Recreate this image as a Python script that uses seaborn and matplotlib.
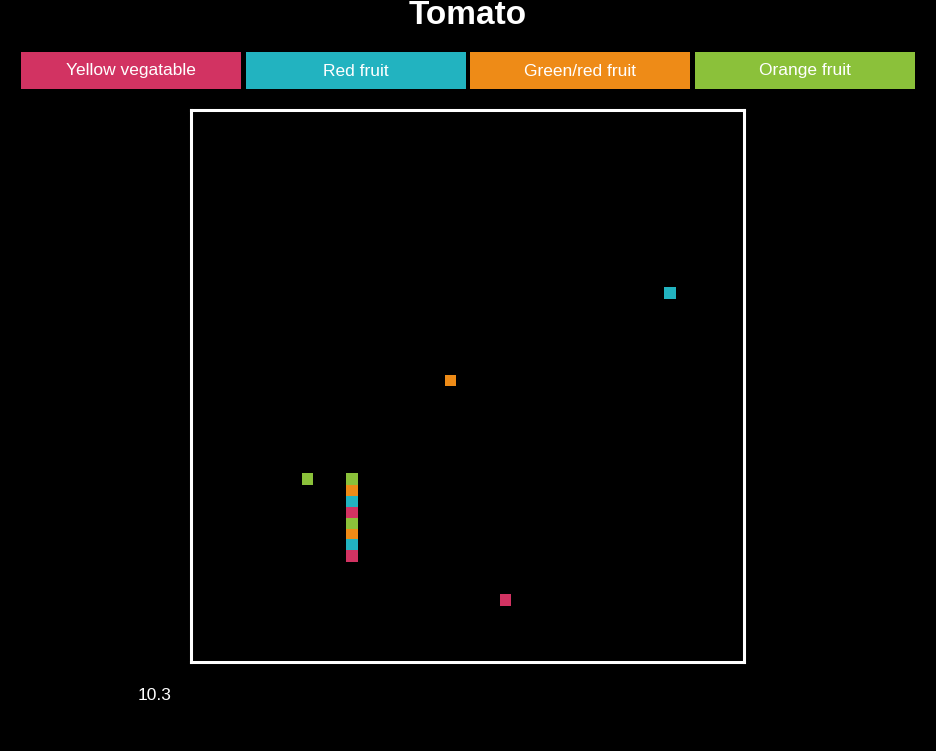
import matplotlib
matplotlib.use("Agg")
import matplotlib.pyplot as plt
import seaborn as sns
import pandas as pd
from matplotlib.patches import Rectangle

categories = ["Yellow vegatable", "Red fruit", "Green/red fruit", "Orange fruit"]
colors = ["#D23362", "#22B3C0", "#EE8B17", "#8BC13A"]

point_x = [21.1, 29.1, 29.1, 29.1, 29.1, 29.1, 29.1, 29.1, 29.1, 46.9, 86.6, 56.9]
point_y = [33.1, 33.1, 31.1, 29.1, 27.1, 25.1, 23.1, 21.2, 19.2, 51.0, 66.9, 11.2]
point_cat = ["Orange fruit", "Orange fruit", "Green/red fruit", "Red fruit", "Yellow vegatable",
             "Orange fruit", "Green/red fruit", "Red fruit", "Yellow vegatable",
             "Green/red fruit", "Red fruit", "Yellow vegatable"]
title = "Tomato"
note = "10.3"

sns.set_style("dark")
plt.rcParams['font.family'] = ['Liberation Sans', 'DejaVu Sans']

df = pd.DataFrame({"x": point_x, "y": point_y, "cat": point_cat})

fig = plt.figure(figsize=(9.36, 7.51), dpi=100, facecolor="black")
W, H = 936, 751
ax = fig.add_axes([191 / W, 1 - 662 / H, (744 - 191) / W, (662 - 110) / H])
ax.set_facecolor("black")
sns.scatterplot(data=df, x="x", y="y", hue="cat", hue_order=categories,
                palette=colors, marker="s", s=70, linewidth=0, ax=ax, legend=False)
ax.set_xlim(0, 100)
ax.set_ylim(0, 100)
ax.set_xticks([])
ax.set_yticks([])
ax.set_xlabel("")
ax.set_ylabel("")
ax.grid(False)
for sp in ax.spines.values():
    sp.set_visible(True)
    sp.set_color("white")
    sp.set_linewidth(2.2)

fig.text(468 / W, 1 - 16 / H, title, ha="center", va="center", color="white",
         fontsize=24, fontweight="bold")

lefts = [21, 246, 470, 695]
bw = 220
for l, c, lab in zip(lefts, colors, categories):
    fig.patches.append(Rectangle((l / W, 1 - 89 / H), bw / W, 37 / H,
                                 transform=fig.transFigure, facecolor=c, edgecolor="none"))
    fig.text((l + bw / 2) / W, 1 - 71 / H, lab, ha="center", va="center",
             color="white", fontsize=12.5)

fig.text(155 / W, 1 - 696 / H, note, ha="center", va="center", color="white", fontsize=12.5)

fig.savefig("out.png", dpi=100, facecolor="black")
